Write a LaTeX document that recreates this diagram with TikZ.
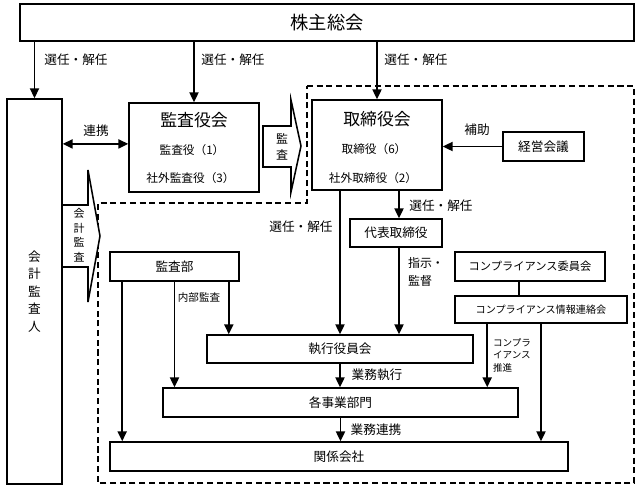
\documentclass[tikz,border=0pt]{standalone}
\usepackage{fontspec}
\setmainfont{Noto Sans CJK JP}
\usetikzlibrary{arrows.meta,positioning,calc}

\begin{document}
\begin{tikzpicture}[
    x=0.025cm, y=-0.025cm,
    box/.style={rectangle, draw=black, line width=1.1pt, inner sep=0pt, align=center, fill=white, font=\fontsize{9}{11}\selectfont},
    flow/.style={-{Triangle[length=7pt,width=6.5pt]}, line width=1.1pt},
    biflow/.style={{Triangle[length=7pt,width=6.5pt]}-{Triangle[length=7pt,width=6.5pt]}, line width=1.1pt},
    link/.style={line width=1.1pt},
    region/.style={line width=1pt, dash pattern=on 4.3pt off 2.6pt},
    blockarrow/.style={draw=black, line width=1.1pt, fill=white, line join=miter},
    lbl/.style={inner sep=0pt, font=\fontsize{9}{11}\selectfont},
    small/.style={inner sep=0pt, align=left, font=\fontsize{7.5}{9.5}\selectfont},
    title/.style={inner sep=0pt, font=\fontsize{12}{14}\selectfont},
    member/.style={inner sep=0pt, font=\fontsize{8.3}{10}\selectfont}
]
\useasboundingbox (0,0) rectangle (638,487);

% Execution area
\draw[region] (307,86) -- (634,86) -- (634,483) -- (98,483) -- (98,203) -- (307,203) -- cycle;

% Audit arrows
\draw[blockarrow] (263,126) -- (291,126) -- (291,100) -- (301,146) -- (291,192) -- (291,167) -- (263,167) -- cycle;
\node[inner sep=0pt, align=center, font=\fontsize{8.5}{11}\selectfont] (kansatxt) at (282,147) {監\\査};
\draw[blockarrow] (62,205) -- (88,205) -- (88,170) -- (100,236) -- (88,302) -- (88,267) -- (62,267);
\node[inner sep=0pt, align=center, font=\fontsize{7.8}{10.3}\selectfont] (kaikeitxt) at (79,235) {会\\計\\監\\査};

% Shareholders
\node[box, minimum width=15.35cm, minimum height=0.925cm, font=\fontsize{13}{15}\selectfont] (kabu) at (327,22.5) {株主総会};

% Accounting auditor
\node[box, minimum width=1.375cm, minimum height=9.625cm, font=\fontsize{9}{12.4}\selectfont] (kaikei) at (34.5,291.5) {会\\計\\監\\査\\人};

% Audit board
\node[box, minimum width=3.25cm, minimum height=2.225cm] (kansa) at (194,147.5) {};
\node[title] (kansat) at (194,120) {監査役会};
\node[member] (kansa1) at (192,150) {監査役（1）};
\node[member] (kansa2) at (190.5,178) {社外監査役（3）};

% Board of directors
\node[box, minimum width=3.25cm, minimum height=2.25cm] (tori) at (377,145) {};
\node[title] (torit) at (377,119) {取締役会};
\node[member] (tori1) at (374,149) {取締役（6）};
\node[member] (tori2) at (373,178) {社外取締役（2）};

\node[box, minimum width=2.025cm, minimum height=0.725cm] (keiei) at (543.5,146.5) {経営会議};
\node[box, minimum width=2.3cm, minimum height=0.7cm] (daihyo) at (396,233) {代表取締役};

% Internal audit and compliance
\node[box, minimum width=3.225cm, minimum height=0.725cm] (kansabu) at (174.5,266.5) {監査部};
\node[box, minimum width=3.75cm, minimum height=0.725cm, font=\fontsize{8}{10}\selectfont] (comp) at (530,266.5) {コンプライアンス委員会};
\node[box, minimum width=4.3cm, minimum height=0.675cm, font=\fontsize{7.2}{9}\selectfont] (compinfo) at (541,309.5) {コンプライアンス情報連絡会};

% Execution
\node[box, minimum width=6.65cm, minimum height=0.7cm] (shikko) at (340,349) {執行役員会};
\node[box, minimum width=8.875cm, minimum height=0.725cm] (jigyo) at (340.5,402.5) {各事業部門};
\node[box, minimum width=11.45cm, minimum height=0.725cm] (kankei) at (339,456.5) {関係会社};

% Arrows
\draw[flow] (kabu.south -| kaikei.north) -- (kaikei.north);
\draw[flow] (kabu.south -| kansa.north) -- (kansa.north);
\draw[flow] (kabu.south -| tori.north) -- (tori.north);

\coordinate (renkei) at ([yshift=0.09cm]kansa.west);
\draw[biflow] (kaikei.east |- renkei) -- (renkei);
\draw[flow] (keiei.west) -- (keiei.west -| tori.east);

\coordinate (dtop) at ([xshift=0.075cm]daihyo.north);
\draw[flow] (dtop |- tori.south) -- (dtop);
\draw[flow] (dtop |- daihyo.south) -- (dtop |- shikko.north);
\draw[flow] (shikko.north |- tori.south) -- (shikko.north);

\coordinate (ka) at ([xshift=0.325cm]kansabu.south west);
\coordinate (kc) at ([xshift=-0.275cm]kansabu.south east);
\draw[flow] (ka) -- (ka |- kankei.north);
\draw[flow] (kansabu.south) -- (kansabu.south |- jigyo.north);
\draw[flow] (kc) -- (kc |- shikko.north);

\draw[flow] (shikko.south) -- (shikko.south |- jigyo.north);
\draw[flow] (jigyo.south) -- (jigyo.south |- kankei.north);

\coordinate (cc) at ([xshift=-0.275cm]comp.south);
\draw[link] (cc) -- (cc |- compinfo.north);
\coordinate (cp) at ([xshift=0.825cm]compinfo.south west);
\draw[flow] (cp) -- (cp |- jigyo.north);
\draw[flow] (compinfo.south) -- (compinfo.south |- kankei.north);

% Labels
\node[lbl] (senninA) at (76,60) {選任・解任};
\node[lbl] (senninB) at (233,60) {選任・解任};
\node[lbl] (senninC) at (416,60) {選任・解任};
\node[lbl] (renkeilbl) at (96,131) {連携};
\node[lbl] (hojo) at (477,130) {補助};
\node[lbl] (senninD) at (441,206) {選任・解任};
\node[lbl] (senninE) at (301,227) {選任・解任};
\node[lbl, align=left, font=\fontsize{8.5}{13}\selectfont] (shiji) at (426,272) {指示・\\監督};
\node[small] (naibu) at (199,297) {内部監査};
\node[lbl] (gyomuA) at (377,375) {業務執行};
\node[lbl] (gyomuB) at (376,430) {業務連携};
\node[small, font=\fontsize{6.8}{8.9}\selectfont] (suishin) at (512,355) {コンプラ\\イアンス\\推進};

\end{tikzpicture}
\end{document}
